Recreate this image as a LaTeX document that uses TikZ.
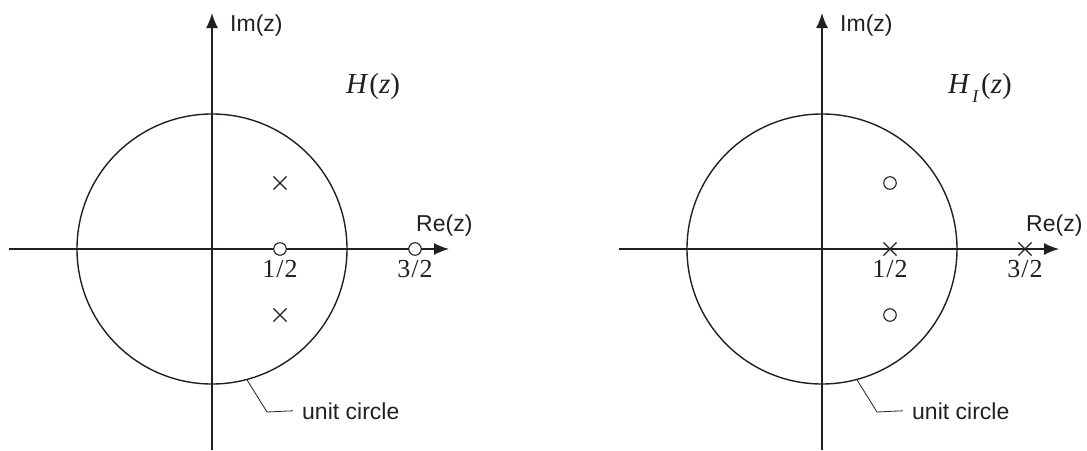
\documentclass[tikz,border=0pt]{standalone}
\usepackage{fontspec}
\setmainfont{Liberation Serif}
\setsansfont{Liberation Sans}
\usetikzlibrary{arrows.meta,shapes.misc}
\definecolor{ink}{HTML}{231F20}
\begin{document}
\begin{tikzpicture}[x=1pt,y=-1pt,color=ink,
 axis/.style={line width=1.4pt,-{Latex[length=15pt,width=12pt]}},
 unitc/.style={circle,draw,line width=1.4pt,minimum size=270pt,inner sep=0pt},
 lbl/.style={font=\fontsize{23}{25}\sffamily,inner sep=0pt},
 num/.style={font=\fontsize{26}{28}\rmfamily,inner sep=0pt,anchor=base},
 hlab/.style={font=\fontsize{29}{31}\rmfamily,inner sep=0pt,anchor=base west},
 zero/.style={circle,draw,line width=1.1pt,fill=white,minimum size=12.5pt,inner sep=0pt},
 pole/.style={cross out,draw,line width=1.1pt,minimum size=12pt,inner sep=0pt},
 leader/.style={line width=0.8pt}]
\useasboundingbox (0,0) rectangle (1087,450);
% ---------- left panel ----------
\coordinate (O1) at (212,249);
\coordinate (yb1) at (212,450);
\coordinate (yt1) at (212,13);
\coordinate (xl1) at (9,249);
\coordinate (xr1) at (449,249);
\draw[axis] (xl1) -- (xr1);
\draw[axis] (yb1) -- (yt1);
\node[unitc] (C1) at (O1) {};
\node[lbl,anchor=base west] (im1) at (230,31) {Im(z)};
\node[lbl,anchor=base west] (re1) at (416,231) {Re(z)};
\node[hlab] (h1) at (346,93) {\textit{H}\kern1pt(\textit{z})};
\node[pole] (p1a) at (280,183) {};
\node[pole] (p1b) at (280,315) {};
\node[zero] (z1a) at (280,249) {};
\node[zero] (z1b) at (415,249) {};
\node[num] (n1a) at (280,277) {1\kern1pt/\kern1pt2};
\node[num] (n1b) at (415,277) {3\kern1pt/\kern1pt2};
\coordinate (k1) at (267,412);
\node[lbl,anchor=base west] (u1) at (302,419) {unit circle};
\draw[leader] (C1.-75) -- (k1) -- ([xshift=-9pt]u1.west);
% ---------- right panel ----------
\coordinate (O2) at (822,249);
\coordinate (yb2) at (822,450);
\coordinate (yt2) at (822,13);
\coordinate (xl2) at (619,249);
\coordinate (xr2) at (1059,249);
\draw[axis] (xl2) -- (xr2);
\draw[axis] (yb2) -- (yt2);
\node[unitc] (C2) at (O2) {};
\node[lbl,anchor=base west] (im2) at (840,31) {Im(z)};
\node[lbl,anchor=base west] (re2) at (1026,231) {Re(z)};
\node[hlab] (h2) at (948,93) {\textit{H}\kern2pt\raisebox{-9pt}{\fontsize{18}{18}\selectfont\textit{I}}\kern2pt(\textit{z})};
\node[zero] (z2a) at (890,183) {};
\node[zero] (z2b) at (890,315) {};
\node[pole] (p2a) at (890,249) {};
\node[pole] (p2b) at (1025,249) {};
\node[num] (n2a) at (890,277) {1\kern1pt/\kern1pt2};
\node[num] (n2b) at (1025,277) {3\kern1pt/\kern1pt2};
\coordinate (k2) at (877,412);
\node[lbl,anchor=base west] (u2) at (912,419) {unit circle};
\draw[leader] (C2.-75) -- (k2) -- ([xshift=-9pt]u2.west);
\end{tikzpicture}
\end{document}
